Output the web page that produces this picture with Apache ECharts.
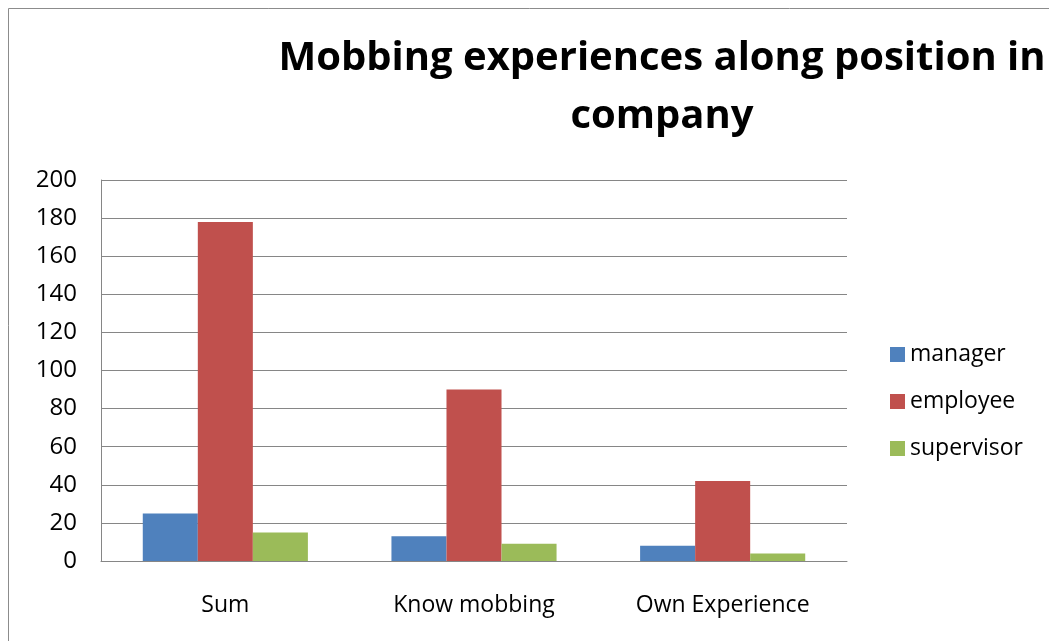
<!DOCTYPE html>
<html>
<head>
<meta charset="utf-8">
<script src="https://cdn.jsdelivr.net/npm/echarts@6/dist/echarts.min.js"></script>
<style>
  html, body { margin: 0; padding: 0; background: #fff; }
  #chart { width: 1049px; height: 641px; }
</style>
</head>
<body>
<div id="chart"></div>
<script>
  // values
  var categories = ['Sum', 'Know mobbing', 'Own Experience'];
  var manager = [25, 13, 8];
  var employee = [178, 90, 42];
  var supervisor = [15, 9, 4];
  var seriesNames = ['manager', 'employee', 'supervisor'];
  var colors = ['#4F81BD', '#C0504D', '#9BBB59'];

  var font = '"Open Sans", "Liberation Sans", sans-serif';
  var chart = echarts.init(document.getElementById('chart'));

  chart.setOption({
    animation: false,
    color: colors,
    graphic: [{
      type: 'rect',
      shape: { x: 8.5, y: 8.5, width: 1100, height: 700 },
      style: { fill: 'none', stroke: '#8c8c8c', lineWidth: 1 },
      silent: true
    }],
    title: {
      text: 'Mobbing experiences along position in\ncompany',
      left: 657,
      top: 25,
      textAlign: 'center',
      textStyle: {
        fontFamily: font,
        fontWeight: 'bold',
        fontSize: 40,
        lineHeight: 58,
        color: '#000'
      }
    },
    legend: {
      orient: 'vertical',
      left: 890,
      top: 343,
      padding: 0,
      itemWidth: 15,
      itemHeight: 15,
      itemGap: 24,
      itemTextGap: 7,
      icon: 'rect',
      data: seriesNames,
      textStyle: { fontFamily: font, fontSize: 23, color: '#000' }
    },
    grid: { left: 101, right: 202, top: 180, bottom: 80 },
    xAxis: {
      type: 'category',
      data: categories,
      axisTick: { show: false },
      axisLine: { lineStyle: { color: '#868686', width: 1 } },
      axisLabel: { fontFamily: font, fontSize: 23, color: '#000', margin: 33 }
    },
    yAxis: {
      type: 'value',
      min: 0,
      max: 200,
      interval: 20,
      axisLine: { show: true, lineStyle: { color: '#868686', width: 1 } },
      axisTick: { show: false },
      splitLine: { lineStyle: { color: '#868686', width: 1 } },
      axisLabel: { fontFamily: font, fontSize: 24, color: '#000', margin: 24 }
    },
    series: [
      { name: seriesNames[0], type: 'bar', data: manager, barGap: '0%', barCategoryGap: '33.6%' },
      { name: seriesNames[1], type: 'bar', data: employee, barGap: '0%', barCategoryGap: '33.6%' },
      { name: seriesNames[2], type: 'bar', data: supervisor, barGap: '0%', barCategoryGap: '33.6%' }
    ]
  });
</script>
</body>
</html>
